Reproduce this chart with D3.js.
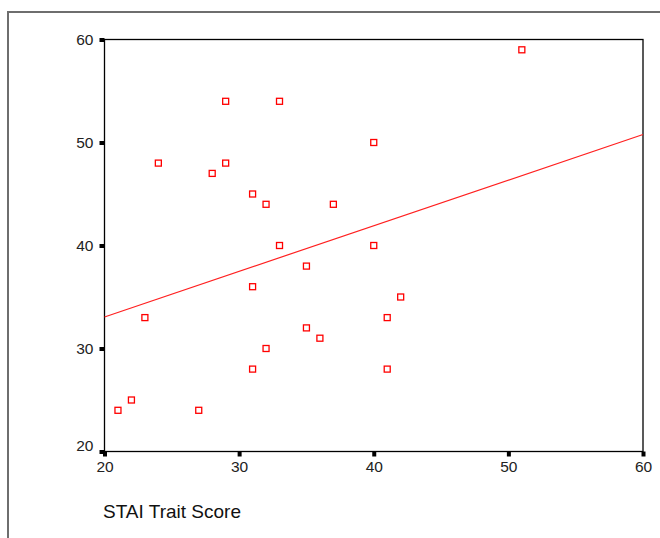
<!DOCTYPE html>
<html>
<head>
<meta charset="utf-8">
<script src="https://cdn.jsdelivr.net/npm/d3@7"></script>
<style>
  html, body { margin: 0; padding: 0; background: #fff; }
  svg { display: block; font-family: "Liberation Sans", Arial, sans-serif; }
</style>
</head>
<body>
<svg id="chart" width="660" height="538"></svg>
<script>
// Data
const traitScores = [51, 29, 33, 40, 24, 29, 28, 31, 32, 37, 33, 40, 35, 31, 42, 23, 41, 35, 36, 32, 31, 41, 22, 21, 27];
const stateScores = [59, 54, 54, 50, 48, 48, 47, 45, 44, 44, 40, 40, 38, 36, 35, 33, 33, 32, 31, 30, 28, 28, 25, 24, 24];
const xTicks = [20, 30, 40, 50, 60];
const yTicks = [20, 30, 40, 50, 60];
const xLabel = "STAI Trait Score";

(function () {
const svg = d3.select("#chart");
const pLeft = 104.5, pRight = 643, pTop = 39.5, pBottom = 451.5;

const x = d3.scaleLinear().domain([20, 60]).range([pLeft, pRight]);
const y = d3.scaleLinear().domain([20, 60]).range([pBottom, pTop]);

// Outer page frame (partial)
svg.append("path")
  .attr("d", `M8,538 L8,12 L660,12`)
  .attr("fill", "none")
  .attr("stroke", "#6e6e6e")
  .attr("stroke-width", 2);

// Plot frame
svg.append("rect")
  .attr("x", pLeft).attr("y", pTop)
  .attr("width", pRight - pLeft).attr("height", pBottom - pTop)
  .attr("fill", "none").attr("stroke", "#000").attr("stroke-width", 1.3);

// X axis
const xAxis = svg.append("g")
  .attr("transform", `translate(0,${pBottom})`)
  .call(d3.axisBottom(x).tickValues(xTicks).tickSize(5).tickPadding(4).tickFormat(d3.format("d")));
xAxis.select(".domain").remove();
xAxis.selectAll(".tick line").attr("stroke", "#000").attr("stroke-width", 4);
xAxis.selectAll(".tick text")
  .style("font-size", "15.5px").attr("fill", "#222")
  .style("font-family", "Liberation Sans, Arial, sans-serif");

// Y axis
const yAxis = svg.append("g")
  .attr("transform", `translate(${pLeft},0)`)
  .call(d3.axisLeft(y).tickValues(yTicks).tickSize(5).tickPadding(6).tickFormat(d3.format("d")));
yAxis.select(".domain").remove();
yAxis.selectAll(".tick line").attr("stroke", "#000").attr("stroke-width", 4);
yAxis.selectAll(".tick text")
  .style("font-size", "15.5px").attr("fill", "#222")
  .style("font-family", "Liberation Sans, Arial, sans-serif")
  .attr("dy", d => d === 20 ? "-0.05em" : "0.32em");

// Regression line (least squares fit of the data)
const mx = d3.mean(traitScores), my = d3.mean(stateScores);
let sxy = 0, sxx = 0;
traitScores.forEach((v, i) => { sxy += (v - mx) * (stateScores[i] - my); sxx += (v - mx) * (v - mx); });
const slope = sxy / sxx, intercept = my - slope * mx;
svg.append("line")
  .attr("x1", x(20)).attr("y1", y(intercept + slope * 20))
  .attr("x2", x(60)).attr("y2", y(intercept + slope * 60))
  .attr("stroke", "#ff2020").attr("stroke-width", 1.2);

// Points
svg.append("g").selectAll("rect")
  .data(traitScores.map((v, i) => [v, stateScores[i]]))
  .join("rect")
  .attr("x", d => x(d[0]) - 3)
  .attr("y", d => y(d[1]) - 3)
  .attr("width", 6).attr("height", 6)
  .attr("fill", "#fff")
  .attr("stroke", "#ff0000")
  .attr("stroke-width", 1.3);

// Axis title
svg.append("text")
  .attr("x", 103).attr("y", 518)
  .style("font-size", "19px").attr("fill", "#111")
  .text(xLabel);
})();
</script>
</body>
</html>
